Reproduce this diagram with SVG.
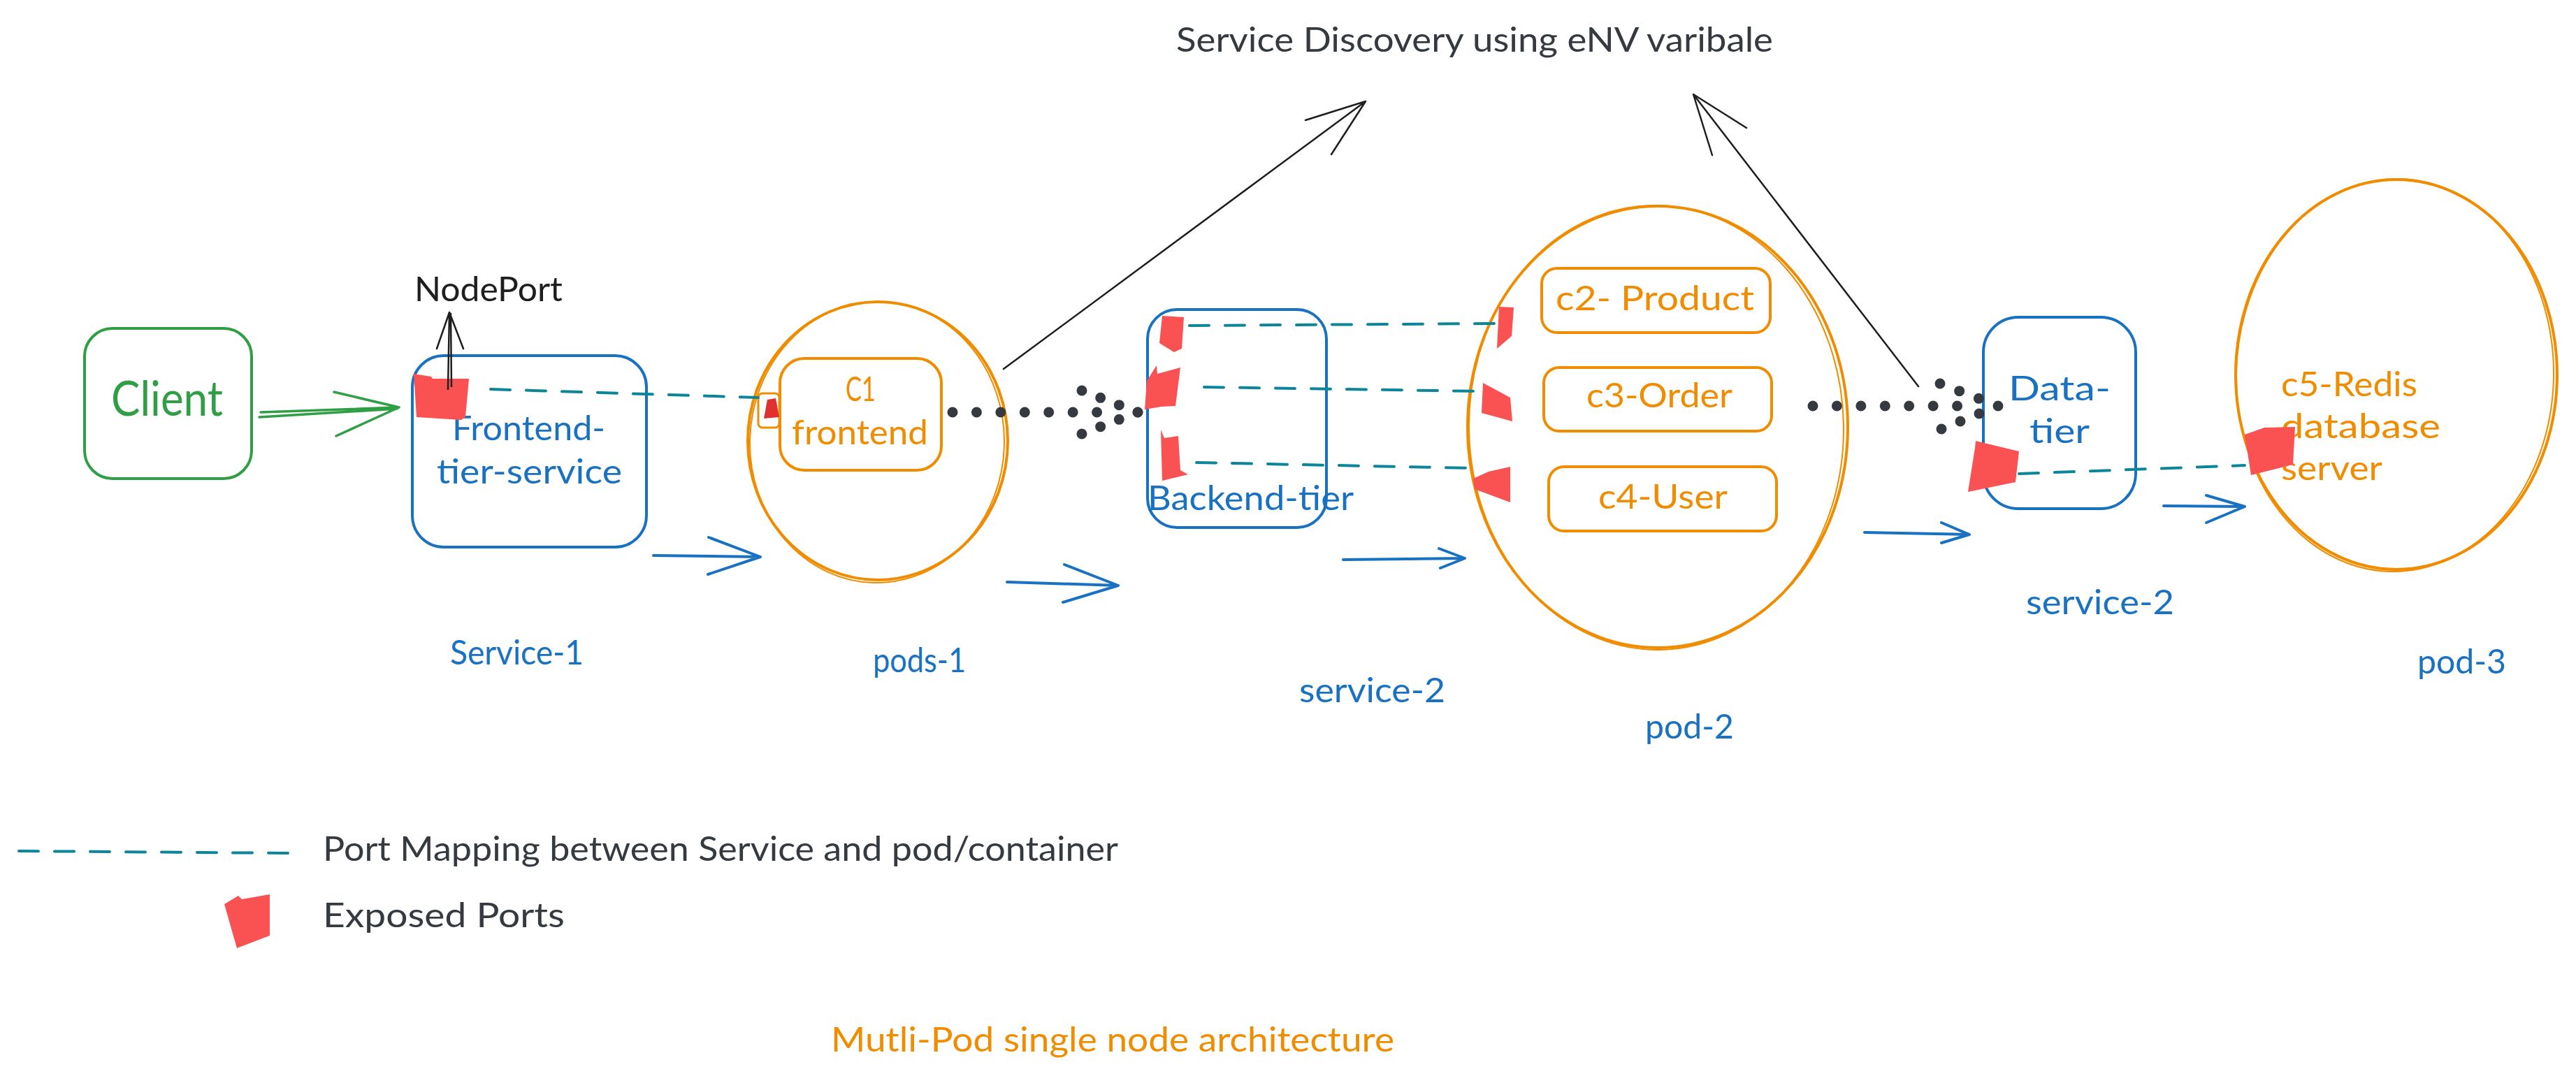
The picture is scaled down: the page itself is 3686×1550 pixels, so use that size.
<svg xmlns="http://www.w3.org/2000/svg" width="3686" height="1550" viewBox="0 0 3686 1550">
<style>
.t{font-family:"Lato","Liberation Sans",sans-serif;font-size:48px;}
.big{font-size:70px;}
.blue{fill:#1971c2;} .orange{fill:#f08c00;} .green{fill:#2f9e44;} .dark{fill:#343a40;} .black{fill:#1e1e1e;}
.box{fill:none;stroke-width:4;stroke-linejoin:round;}
.sb{stroke:#1971c2;} .so{stroke:#f08c00;} .sg{stroke:#2f9e44;}
.ell{fill:none;stroke:#f08c00;stroke-width:4;}
.ell2{fill:none;stroke:#f08c00;stroke-width:2;}
.port{fill:#fa5252;}
.arrB{fill:none;stroke:#1971c2;stroke-width:4;stroke-linecap:round;stroke-linejoin:round;}
.arrG{fill:none;stroke:#2f9e44;stroke-width:3.5;stroke-linecap:round;stroke-linejoin:round;}
.arrK{fill:none;stroke:#1e1e1e;stroke-width:2.5;stroke-linecap:round;stroke-linejoin:round;}
.dash{fill:none;stroke:#0c8599;stroke-width:4;stroke-dasharray:28 23;stroke-linecap:round;}
.dot{fill:none;stroke:#343a40;stroke-width:15;stroke-dasharray:0 1;stroke-linecap:round;}
</style>
<rect width="3686" height="1550" fill="#ffffff"/>

<g id="title"><text class="t dark" x="1683" y="74" textLength="854" lengthAdjust="spacingAndGlyphs">Service Discovery using eNV varibale</text></g>

<g id="client">
<rect class="box sg" x="121" y="470" width="239" height="215" rx="40"/>
<text class="t big green" x="159" y="595" textLength="160" lengthAdjust="spacingAndGlyphs">Client</text>
</g>

<g id="service-1">
<rect class="box sb" x="590" y="509" width="335" height="274" rx="45"/>
<text class="t blue" x="647" y="630" textLength="219" lengthAdjust="spacingAndGlyphs">Frontend-</text>
<text class="t blue" x="625" y="692" textLength="265" lengthAdjust="spacingAndGlyphs">tier-service</text>
<polygon class="port" points="592,535 617,539 619,542 671,542 666,597 660,601 596,597"/>
<text class="t blue" x="644" y="951" textLength="191" lengthAdjust="spacingAndGlyphs">Service-1</text>
<text class="t black" x="593" y="431" textLength="212" lengthAdjust="spacingAndGlyphs">NodePort</text>
</g>

<g id="pods-1">
<ellipse class="ell" cx="1256" cy="631" rx="186" ry="199"/>
<ellipse class="ell2" cx="1255" cy="633" rx="182" ry="201" transform="rotate(1.5 1255 633)"/>
<rect class="box so" x="1116" y="513" width="231" height="160" rx="35"/>
<text class="t orange" x="1210" y="574" textLength="43" lengthAdjust="spacingAndGlyphs">C1</text>
<text class="t orange" x="1133" y="636" textLength="195" lengthAdjust="spacingAndGlyphs">frontend</text>
<rect x="1085" y="563" width="30" height="49" rx="6" fill="none" stroke="#f08c00" stroke-width="3"/>
<polygon points="1098,572 1110,570 1115,597 1093,599" fill="#e03131"/>
<text class="t blue" x="1249" y="962" textLength="133" lengthAdjust="spacingAndGlyphs">pods-1</text>
</g>

<g id="service-2a">
<rect class="box sb" x="1642" y="443" width="256" height="312" rx="42"/>
<text class="t blue" x="1642" y="730" textLength="295" lengthAdjust="spacingAndGlyphs">Backend-tier</text>
<polygon class="port" points="1663,452 1694,454 1691,499 1680,504 1659,491"/>
<polygon class="port" points="1641,545 1655,523 1656,535 1689,526 1682,581 1662,582 1638,586"/>
<polygon class="port" points="1661,615 1666,627 1686,624 1689,673 1700,679 1663,688"/>
<text class="t blue" x="1859" y="1005" textLength="209" lengthAdjust="spacingAndGlyphs">service-2</text>
</g>

<g id="pod-2">
<ellipse class="ell" cx="2372" cy="611" rx="272" ry="316"/>
<ellipse class="ell2" cx="2370" cy="612" rx="268" ry="318" transform="rotate(-1.2 2370 612)"/>
<rect class="box so" x="2206" y="384" width="327" height="92" rx="22"/>
<rect class="box so" x="2209" y="526" width="326" height="91" rx="22"/>
<rect class="box so" x="2216" y="668" width="326" height="92" rx="22"/>
<text class="t orange" x="2226" y="444" textLength="284" lengthAdjust="spacingAndGlyphs">c2- Product</text>
<text class="t orange" x="2270" y="583" textLength="209" lengthAdjust="spacingAndGlyphs">c3-Order</text>
<text class="t orange" x="2287" y="728" textLength="185" lengthAdjust="spacingAndGlyphs">c4-User</text>
<polygon class="port" points="2145,439 2166,440 2163,481 2142,499"/>
<polygon class="port" points="2122,548 2161,569 2164,603 2120,591"/>
<polygon class="port" points="2161,668 2161,719 2110,700 2108,685 2130,675"/>
<text class="t blue" x="2354" y="1057" textLength="127" lengthAdjust="spacingAndGlyphs">pod-2</text>
</g>

<g id="service-2b">
<rect class="box sb" x="2838" y="454" width="218" height="274" rx="50"/>
<text class="t blue" x="2874" y="573" textLength="146" lengthAdjust="spacingAndGlyphs">Data-</text>
<text class="t blue" x="2904" y="634" textLength="86" lengthAdjust="spacingAndGlyphs">tier</text>
<polygon class="port" points="2827,631 2889,646 2884,690 2816,704 2826,641"/>
<text class="t blue" x="2899" y="879" textLength="212" lengthAdjust="spacingAndGlyphs">service-2</text>
</g>

<g id="pod-3">
<ellipse class="ell" cx="3429" cy="536" rx="230" ry="279"/>
<ellipse class="ell2" cx="3427" cy="537" rx="227" ry="281" transform="rotate(1.5 3427 537)"/>
<text class="t orange" x="3264" y="567" textLength="195" lengthAdjust="spacingAndGlyphs">c5-Redis</text>
<text class="t orange" x="3264" y="627" textLength="228" lengthAdjust="spacingAndGlyphs">database</text>
<text class="t orange" x="3264" y="687" textLength="145" lengthAdjust="spacingAndGlyphs">server</text>
<polygon class="port" points="3212,622 3240,612 3284,611 3281,665 3221,680"/>
<text class="t blue" x="3459" y="964" textLength="127" lengthAdjust="spacingAndGlyphs">pod-3</text>
</g>

<g id="connectors">
<path class="arrG" d="M373,590 L571,583 M371,597 L568,585 M478,561 L571,583 L481,624"/>
<path class="arrK" d="M641,557 L643,447 M646,553 L645,449 M625,499 L643,447 L663,499"/>
<path class="dash" d="M702,557 L1085,569"/>
<path class="dash" d="M1702,466 L2140,463"/>
<path class="dash" d="M1723,554 L2118,560"/>
<path class="dash" d="M1712,662 L2108,670"/>
<path class="dash" d="M2889,678 L3212,666"/>
<path class="arrB" d="M935,795 L1088,797 M1014,769 L1088,797 L1013,822"/>
<path class="arrB" d="M1441,833 L1600,838 M1523,808 L1600,838 L1521,862"/>
<path class="arrB" d="M1922,801 L2096,799 M2059,785 L2096,799 L2061,813"/>
<path class="arrB" d="M2668,762 L2818,765 M2778,748 L2818,765 L2778,777"/>
<path class="arrB" d="M3096,724 L3212,725 M3157,709 L3212,725 L3157,748"/>
<path class="dot" pathLength="7" d="M1363,590 L1604,590"/>
<path class="dot" pathLength="3" d="M1548,559 L1628,590"/>
<path class="dot" pathLength="3" d="M1548,621 L1628,590"/>
<path class="dot" pathLength="7" d="M2594,581 L2835,581"/>
<path class="dot" pathLength="3" d="M2776,549 L2859,581"/>
<path class="dot" pathLength="3" d="M2778,614 L2859,581"/>
<path class="arrK" d="M1436,528 L1954,145 M1868,172 L1954,145 L1905,221"/>
<path class="arrK" d="M2745,553 L2423,135 M2499,183 L2423,135 L2450,222"/>
</g>

<g id="legend">
<path class="dash" d="M27,1218 L412,1221"/>
<text class="t dark" x="462" y="1232" textLength="1138" lengthAdjust="spacingAndGlyphs">Port Mapping between Service and pod/container</text>
<polygon class="port" points="321,1294 341,1282 346,1287 386,1280 386,1339 339,1357"/>
<text class="t dark" x="462" y="1327" textLength="346" lengthAdjust="spacingAndGlyphs">Exposed Ports</text>
</g>

<g id="caption"><text class="t orange" x="1189" y="1505" textLength="806" lengthAdjust="spacingAndGlyphs">Mutli-Pod single node architecture</text></g>
</svg>
